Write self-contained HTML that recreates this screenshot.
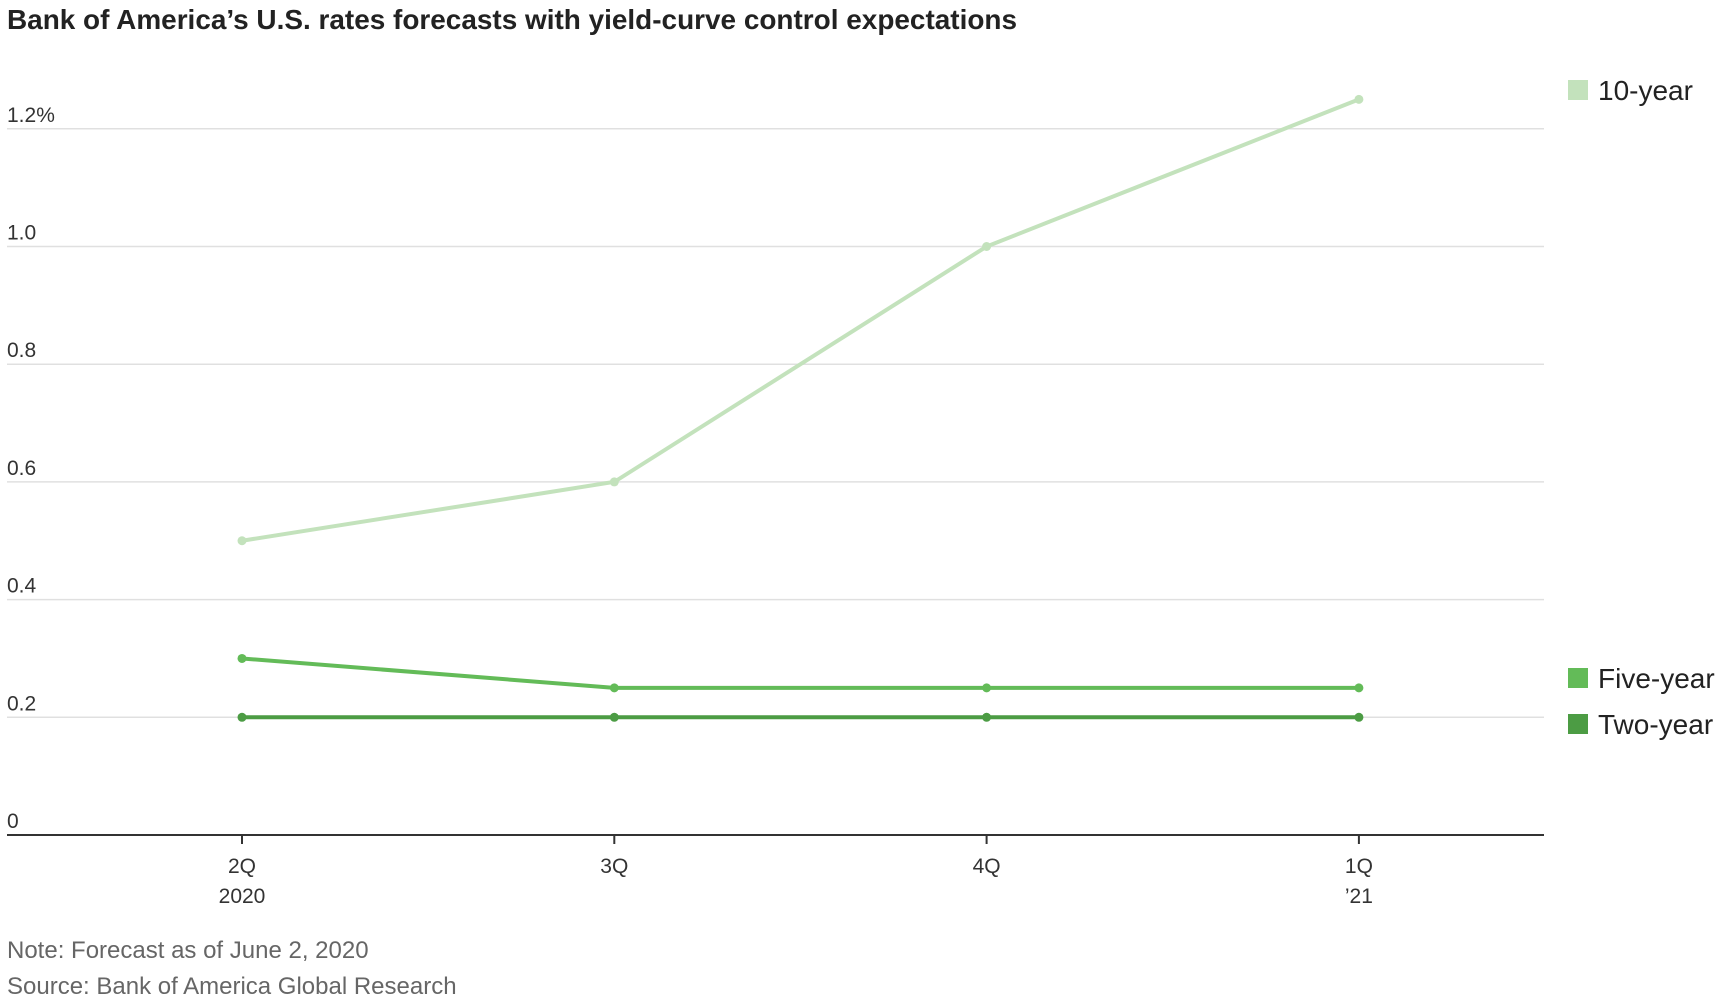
<!DOCTYPE html>
<html><head><meta charset="utf-8"><style>
body{margin:0;background:#fff;font-family:"Liberation Sans",sans-serif;}
svg text{font-family:"Liberation Sans",sans-serif;}
</style></head><body>
<svg id="chart" width="1730" height="1002" viewBox="0 0 1730 1002" xmlns="http://www.w3.org/2000/svg">
<text x="7" y="29" font-size="28" font-weight="bold" fill="#222" textLength="1010" lengthAdjust="spacingAndGlyphs">Bank of America’s U.S. rates forecasts with yield-curve control expectations</text>
<g id="grid"></g><g id="series"></g><g id="legend"></g>
<text x="7" y="958" font-size="24" fill="#666">Note: Forecast as of June 2, 2020</text>
<text x="7" y="994" font-size="24" fill="#666">Source: Bank of America Global Research</text>
</svg>
<script>
const categories=["2Q","3Q","4Q","1Q"];
const subLabels=["2020","","","’21"];
const tenYear=[0.5,0.6,1.0,1.25];
const fiveYear=[0.3,0.25,0.25,0.25];
const twoYear=[0.2,0.2,0.2,0.2];
const yTicks=[0,0.2,0.4,0.6,0.8,1.0,1.2];
const yTickLabels=["0","0.2","0.4","0.6","0.8","1.0","1.2%"];
const NS="http://www.w3.org/2000/svg";
const y=v=>835-v/0.2*117.7;
const x=i=>242+i*372.3;
function mk(tag,attrs,parent){const e=document.createElementNS(NS,tag);for(const k in attrs)e.setAttribute(k,attrs[k]);parent.appendChild(e);return e;}
const grid=document.getElementById('grid');
yTicks.forEach((v,i)=>{
  if(v>0){const l=mk('line',{x1:7,x2:1544,y1:y(v),y2:y(v),stroke:'#e0e0e0','stroke-width':1.5},grid);
  
  }
  const t=mk('text',{x:7,y:y(v)-7,'font-size':21,fill:'#333'},grid);t.textContent=yTickLabels[i];
  
  
});
const ax=mk('line',{x1:7,x2:1544,y1:y(0),y2:y(0),stroke:'#333','stroke-width':2},grid);


categories.forEach((c,i)=>{
  const tk=mk('line',{x1:x(i),x2:x(i),y1:y(0),y2:y(0)+9,stroke:'#333','stroke-width':2},grid);
  
  
  const t=mk('text',{x:x(i),y:873,'font-size':21,fill:'#333','text-anchor':'middle'},grid);t.textContent=c;
  
  
  if(subLabels[i]){const s=mk('text',{x:x(i),y:903,'font-size':21,fill:'#333','text-anchor':'middle'},grid);s.textContent=subLabels[i];
  
  }
});
const series=[[tenYear,'#c3e2bc','ten-year'],[fiveYear,'#63bb58','five-year'],[twoYear,'#4c9c44','two-year']];
const sg=document.getElementById('series');
series.forEach(([d,col,name])=>{
  const p=mk('polyline',{points:d.map((v,i)=>x(i)+','+y(v)).join(' '),fill:'none',stroke:col,'stroke-width':4},sg);
  
  
  d.forEach((v,i)=>{const c=mk('circle',{cx:x(i),cy:y(v),r:4.5,fill:col},sg);
  
  });
});
const lg=document.getElementById('legend');
[['10-year','#c3e2bc',90],['Five-year','#63bb58',678],['Two-year','#4c9c44',724]].forEach(([t,c,yy])=>{
  const r=mk('rect',{x:1568,y:yy-10,width:20,height:20,fill:c},lg);
  
  
  const tx=mk('text',{x:1598,y:yy+10,'font-size':28,fill:'#222'},lg);tx.textContent=t;
  
  
});
</script>
</body></html>
